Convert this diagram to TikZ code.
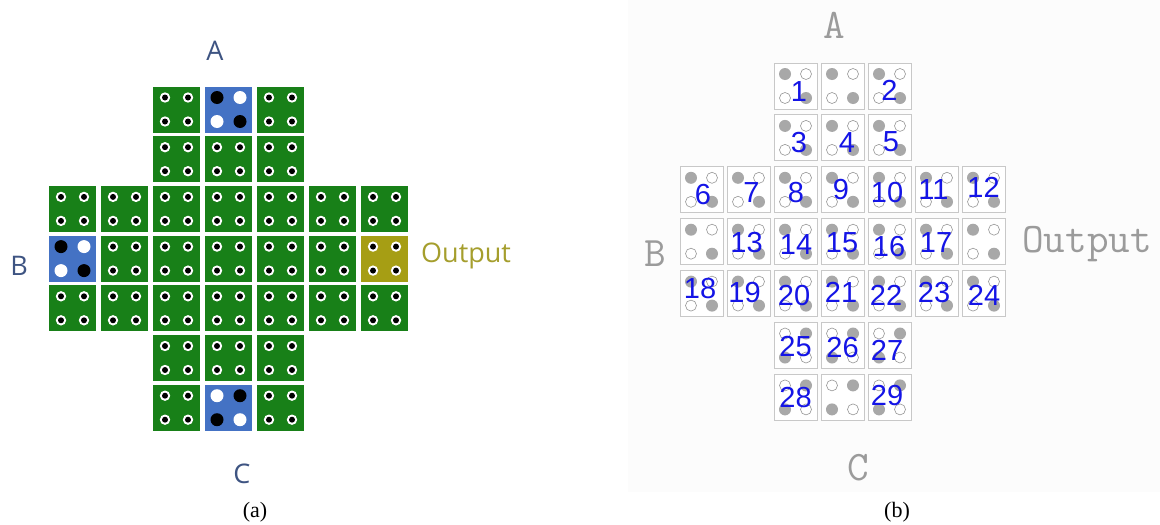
\documentclass[tikz,border=0pt]{standalone}
\usepackage{fontspec}
\setmainfont{Liberation Serif}
\newfontfamily\labfont{Open Sans}
\newfontfamily\numfont{Liberation Sans}
\definecolor{cgreen}{RGB}{24,128,24}
\definecolor{cblue}{RGB}{68,114,196}
\definecolor{colive}{RGB}{166,158,20}
\definecolor{clab}{RGB}{62,84,130}
\definecolor{coutl}{RGB}{165,158,45}
\definecolor{cgrid}{RGB}{200,200,200}
\definecolor{cdot}{RGB}{168,168,168}
\definecolor{cring}{RGB}{150,150,150}
\definecolor{cnum}{RGB}{20,20,230}
\definecolor{cmono}{RGB}{155,155,155}
\definecolor{cbg}{RGB}{252,252,252}
\tikzset{
  lcell/.style={minimum width=47pt, minimum height=46pt, inner sep=0pt, draw=none, fill=cgreen},
  bcell/.style={lcell, fill=cblue},
  ocell/.style={lcell, fill=colive},
  rcell/.style={minimum width=43pt, minimum height=46pt, inner sep=0pt, draw=cgrid, line width=0.9pt, fill=white},
  llab/.style={font=\labfont\fontsize{27}{30}\selectfont, text=clab, inner sep=0pt},
  rlab/.style={font=\ttfamily\fontsize{42}{44}\selectfont, text=cmono, inner sep=0pt},
  numlab/.style={font=\numfont\fontsize{29}{31}\selectfont, text=cnum, inner sep=0pt},
  caplab/.style={font=\fontsize{22}{24}\selectfont, inner sep=0pt},
  fulldot/.style={fill=cdot},
  emptydot/.style={fill=white, draw=cring, line width=0.6pt}
}
\begin{document}
\begin{tikzpicture}[x=1pt,y=-1pt]
\useasboundingbox (0,0) rectangle (1160,525);
\fill[cbg] (628,0) rectangle (1160,492);

% ---------- left panel ----------
\foreach \r/\c/\sty in {0/2/lcell,0/4/lcell,1/2/lcell,1/3/lcell,1/4/lcell,2/0/lcell,2/1/lcell,2/2/lcell,2/3/lcell,2/4/lcell,2/5/lcell,2/6/lcell,3/1/lcell,3/2/lcell,3/3/lcell,3/4/lcell,3/5/lcell,3/6/ocell,4/0/lcell,4/1/lcell,4/2/lcell,4/3/lcell,4/4/lcell,4/5/lcell,4/6/lcell,5/2/lcell,5/3/lcell,5/4/lcell,6/2/lcell,6/4/lcell}{
  \pgfmathsetmacro\px{72.5+52*\c}
  \pgfmathsetmacro\py{109.5+49.7*\r}
  \node[\sty] (L\r\c) at (\px,\py) {};
  \foreach \dx in {-11.5,11.5}{\foreach \dy in {-12,12}{
    \fill[white] (\px+\dx,\py+\dy) circle (5.2pt);
    \fill[black] (\px+\dx,\py+\dy) circle (3pt);
  }}
}
% blue cells: A, B (TL,BR black), C (TR,BL black)
\foreach \r/\c/\s in {0/3/1,3/0/1,6/3/-1}{
  \pgfmathsetmacro\px{72.5+52*\c}
  \pgfmathsetmacro\py{109.5+49.7*\r}
  \node[bcell] (L\r\c) at (\px,\py) {};
  \fill[black] (\px-11.5*\s,\py-12) circle (6.5pt);
  \fill[black] (\px+11.5*\s,\py+12) circle (6.5pt);
  \fill[white] (\px+11.5*\s,\py-12) circle (6.5pt);
  \fill[white] (\px-11.5*\s,\py+12) circle (6.5pt);
}
\node[llab, anchor=base] (LA) at (215,60) {A};
\node[llab, anchor=base] (LB) at (19,275) {B};
\node[llab, anchor=base] (LC) at (242,483) {C};
\node[llab, text=coutl, anchor=base west] (LO) at (421,262) {Output};

% ---------- right panel ----------
\foreach \r/\c in {0/2,0/3,0/4,1/2,1/3,1/4,2/0,2/1,2/2,2/3,2/4,2/5,2/6,3/0,3/1,3/2,3/3,3/4,3/5,3/6,4/0,4/1,4/2,4/3,4/4,4/5,4/6,5/2,5/3,5/4,6/2,6/3,6/4}{
  \pgfmathsetmacro\px{701.5+47*\c}
  \pgfmathsetmacro\py{86+51.9*\r}
  \pgfmathsetmacro\s{\r<5 ? 1 : -1}
  \node[rcell] (R\r\c) at (\px,\py) {};
  \fill[fulldot] (\px-10.5*\s,\py-12) circle (6pt);
  \fill[fulldot] (\px+10.5*\s,\py+12) circle (6pt);
  \filldraw[emptydot] (\px+10.5*\s,\py-12) circle (5.5pt);
  \filldraw[emptydot] (\px-10.5*\s,\py+12) circle (5.5pt);
}
\foreach \n/\r/\c/\dx/\dy in {1/0/2/3.5/6, 2/0/4/0/4, 3/1/2/3.5/5, 4/1/3/4.5/5, 5/1/4/1.5/4,
  6/2/0/1.5/5, 7/2/1/3/3, 8/2/2/0.5/3, 9/2/3/-1.5/0, 10/2/4/-2.5/3, 11/2/5/-3/0, 12/2/6/0/-2,
  13/3/1/-2/1, 14/3/2/0.5/3, 15/3/3/-0.5/1, 16/3/4/-0.5/5, 17/3/5/-0.5/1,
  18/4/0/-1.5/-5.5, 19/4/1/-4/-1.5, 20/4/2/-1.5/1.5, 21/4/3/-1.5/-1.5, 22/4/4/-3.5/1.5, 23/4/5/-2.5/-1.5, 24/4/6/0.5/1.5,
  25/5/2/0/1.5, 26/5/3/0/2.5, 27/5/4/-2.5/4.5, 28/6/2/0/0, 29/6/4/-2.5/-2}{
  \node[numlab] (N\n) at ([xshift=\dx pt, yshift=-\dy pt]R\r\c.center) {\n};
}
\node[rlab, anchor=base] (RA) at (834,38) {A};
\node[rlab, anchor=base] (RB) at (655,266) {B};
\node[rlab, anchor=base] (RC) at (858,480) {C};
\node[rlab, anchor=base west] (RO) at (1022,252) {Output};

% captions
\node[caplab] (capa) at (255,512) {(a)};
\node[caplab] (capb) at (897,512) {(b)};
\end{tikzpicture}
\end{document}
